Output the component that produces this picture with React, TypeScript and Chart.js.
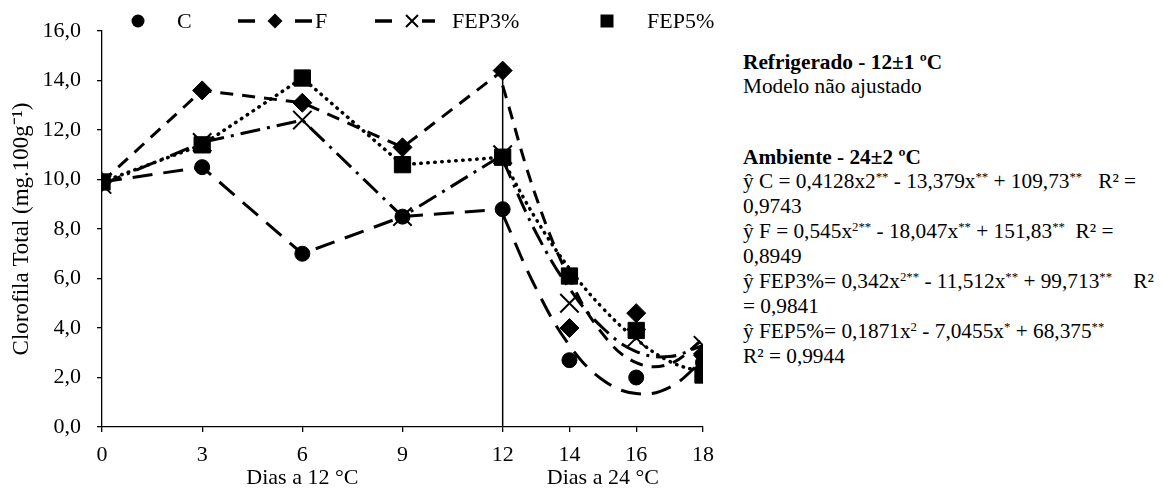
import React, { useEffect, useRef } from 'react';
import { Chart, registerables } from 'chart.js';

Chart.register(...registerables);

// ---------- data ----------
const days = [0, 3, 6, 9, 12, 14, 16, 18];
const xTickValues = [0, 3, 6, 9, 12, 14, 16, 18];
const seriesNames = ['C', 'F', 'FEP3%', 'FEP5%'];

const valuesC = [9.9, 10.5, 7.0, 8.5, 8.8, 2.7, 2.0, 2.6];
const valuesF = [9.9, 13.6, 13.1, 11.3, 14.4, 4.0, 4.6, 2.9];
const valuesFEP3 = [9.8, 11.5, 12.4, 8.5, 11.0, 5.0, 3.6, 3.3];
const valuesFEP5 = [9.9, 11.4, 14.1, 10.6, 10.9, 6.1, 3.9, 2.1];

// fitted curves (ambient phase)
const fitDays = [12, 13, 14, 15, 16, 17, 18];
const fitC = [8.6, 5.6, 3.3, 1.9, 1.35, 1.6, 2.7];
const fitF = [13.8, 9.3, 6.0, 3.75, 2.6, 2.55, 3.55];
const fitFEP3 = [10.8, 7.85, 5.6, 4.0, 3.05, 2.85, 3.3];
const fitFEP5 = [10.8, 8.4, 6.4, 4.8, 3.55, 2.65, 2.2];

const lastStoredIndex = 4; // day 12: end of refrigerated phase
const dividerDay = 12;
const dividerTop = 14.4;

const yMin = 0;
const yMax = 16;
const yStep = 2;
const yTitle = 'Clorofila Total (mg.100g\u207B\u00B9)';
const xTitles = ['Dias a 12 °C', 'Dias a 24 °C'];
const xTitleDays = [6, 15];

const refTitle = 'Refrigerado - 12±1 ºC';
const refNote = 'Modelo não ajustado';
const ambTitle = 'Ambiente - 24±2 ºC';

// ---------- styles ----------
const FONT = '"Liberation Serif", "Times New Roman", serif';
const FS = 22;

type St = { pointStyle: string; radius: number; pb: number; dash: number[]; cap: CanvasLineCap; width: number };
const styles: St[] = [
  { pointStyle: 'circle', radius: 7.5, pb: 1, dash: [20, 11], cap: 'butt', width: 3 },
  { pointStyle: 'rectRot', radius: 9.5, pb: 1, dash: [13, 9], cap: 'butt', width: 3 },
  { pointStyle: 'crossRot', radius: 13, pb: 2, dash: [20, 7, 3, 7], cap: 'butt', width: 3 },
  { pointStyle: 'rect', radius: 11.5, pb: 1, dash: [0.5, 6.5], cap: 'round', width: 3.5 },
];

function drawMarker(ctx: CanvasRenderingContext2D, kind: string, x: number, y: number, r: number) {
  ctx.save();
  ctx.fillStyle = '#000';
  ctx.strokeStyle = '#000';
  ctx.setLineDash([]);
  ctx.beginPath();
  if (kind === 'circle') {
    ctx.arc(x, y, r, 0, Math.PI * 2);
    ctx.fill();
  } else if (kind === 'rectRot') {
    ctx.moveTo(x, y - r);
    ctx.lineTo(x + r, y);
    ctx.lineTo(x, y + r);
    ctx.lineTo(x - r, y);
    ctx.closePath();
    ctx.fill();
  } else if (kind === 'crossRot') {
    ctx.lineWidth = 2;
    ctx.moveTo(x - r, y - r);
    ctx.lineTo(x + r, y + r);
    ctx.moveTo(x + r, y - r);
    ctx.lineTo(x - r, y + r);
    ctx.stroke();
  } else {
    ctx.rect(x - r, y - r, 2 * r, 2 * r);
    ctx.fill();
  }
  ctx.restore();
}

function dash(ctx: CanvasRenderingContext2D, x1: number, x2: number, y: number) {
  ctx.save();
  ctx.strokeStyle = '#000';
  ctx.lineWidth = 3.5;
  ctx.beginPath();
  ctx.moveTo(x1, y);
  ctx.lineTo(x2, y);
  ctx.stroke();
  ctx.restore();
}

const extrasPlugin = {
  id: 'extras',
  afterDraw(chart: any) {
    const ctx: CanvasRenderingContext2D = chart.ctx;
    const xs = chart.scales.x;
    ctx.save();
    ctx.fillStyle = '#000';
    ctx.font = `${FS}px ${FONT}`;
    ctx.textAlign = 'center';
    ctx.textBaseline = 'middle';
    xTitles.forEach((t, i) => {
      ctx.fillText(t, xs.getPixelForValue(xTitleDays[i]), 478);
    });
    // legend
    const ly = 21;
    ctx.textAlign = 'left';
    drawMarker(ctx, 'circle', 138, ly, 6.5);
    ctx.fillText(seriesNames[0], 177, ly + 1);
    dash(ctx, 238, 255, ly);
    drawMarker(ctx, 'rectRot', 275, ly, 7.5);
    dash(ctx, 295, 312, ly);
    ctx.fillText(seriesNames[1], 315, ly + 1);
    dash(ctx, 375, 392, ly);
    drawMarker(ctx, 'crossRot', 412, ly, 6);
    dash(ctx, 422, 435, ly);
    ctx.fillText(seriesNames[2], 452, ly + 1);
    drawMarker(ctx, 'rect', 607, ly, 6.5);
    ctx.fillText(seriesNames[3], 647, ly + 1);
    ctx.restore();
  },
};

const sup: React.CSSProperties = { fontSize: '0.6em', position: 'relative', top: '-0.55em', lineHeight: 0 };

export default function App() {
  const ref = useRef<HTMLCanvasElement>(null);
  useEffect(() => {
    const canvas = ref.current!;
    const observed = [valuesC, valuesF, valuesFEP3, valuesFEP5];
    const fits = [fitC, fitF, fitFEP3, fitFEP5];
    const obsSets = observed.map((vals, i) => {
      const st = styles[i];
      return {
        label: seriesNames[i],
        data: days.map((d, k) => ({ x: d, y: vals[k] })),
        borderColor: '#000',
        backgroundColor: '#000',
        borderWidth: st.width,
        borderDash: st.dash,
        borderCapStyle: st.cap,
        pointStyle: st.pointStyle,
        pointRadius: st.radius,
        pointBorderWidth: st.pb,
        pointBackgroundColor: '#000',
        pointBorderColor: '#000',
        tension: 0,
        segment: {
          borderColor: (c: any) => (c.p0DataIndex >= lastStoredIndex ? 'rgba(0,0,0,0)' : '#000'),
        },
      };
    });
    const fitSets = fits.map((vals, i) => {
      const st = styles[i];
      return {
        label: seriesNames[i] + ' fit',
        data: fitDays.map((d, k) => ({ x: d, y: vals[k] })),
        borderColor: '#000',
        borderWidth: st.width,
        borderDash: st.dash,
        borderCapStyle: st.cap,
        pointRadius: 0,
        tension: 0.4,
      };
    });
    const divider = {
      label: 'divider',
      data: [
        { x: dividerDay, y: yMin },
        { x: dividerDay, y: dividerTop },
      ],
      borderColor: '#000',
      borderWidth: 1.5,
      pointRadius: 0,
    };
    const chart = new Chart(canvas, {
      type: 'line',
      data: { datasets: [...obsSets, ...fitSets, divider] as any },
      options: {
        animation: false,
        responsive: false,
        maintainAspectRatio: false,
        devicePixelRatio: 1,
        layout: { padding: { left: 0, top: 31, right: 37, bottom: 0 } },
        plugins: { legend: { display: false }, tooltip: { enabled: false } },
        scales: {
          x: {
            type: 'linear',
            min: 0,
            max: 18,
            afterBuildTicks: (s: any) => {
              s.ticks = xTickValues.map((v) => ({ value: v }));
            },
            afterFit: (s: any) => {
              s.height = 72;
            },
            ticks: {
              callback: (v: any) => String(v),
              font: { family: FONT, size: FS },
              color: '#000',
              padding: 10,
              maxRotation: 0,
              autoSkip: false,
            },
            grid: { drawOnChartArea: false, tickLength: 5, color: '#000', lineWidth: 1.3 },
            border: { color: '#000', width: 1.3 },
          },
          y: {
            min: yMin,
            max: yMax,
            afterFit: (s: any) => {
              s.width = 102;
            },
            ticks: {
              stepSize: yStep,
              callback: (v: any) => Number(v).toFixed(1).replace('.', ','),
              font: { family: FONT, size: FS },
              color: '#000',
              padding: 16,
            },
            title: {
              display: true,
              text: yTitle,
              font: { family: FONT, size: 23 },
              color: '#000',
              padding: { top: 8, bottom: 0 },
            },
            grid: { drawOnChartArea: false, tickLength: 5, color: '#000', lineWidth: 1.3 },
            border: { color: '#000', width: 1.3 },
          },
        },
      } as any,
      plugins: [extrasPlugin],
    });
    return () => chart.destroy();
  }, []);

  const lh = 24.9;
  const textStyle: React.CSSProperties = {
    position: 'absolute',
    left: 743,
    fontFamily: FONT,
    fontSize: 21.3,
    lineHeight: `${lh}px`,
    color: '#000',
    whiteSpace: 'nowrap',
  };
  const nb = '\u00A0';
  return (
    <div style={{ position: 'fixed', left: 0, top: 0, width: 1163, height: 499, background: '#fff' }}>
      <canvas ref={ref} width={740} height={499} style={{ position: 'absolute', left: 0, top: 0 }} />
      <div style={{ ...textStyle, top: 62 - lh / 2 }}>
        <div style={{ fontWeight: 'bold' }}>{refTitle}</div>
        <div>{refNote}</div>
      </div>
      <div style={{ ...textStyle, top: 157 - lh / 2 }}>
        <div style={{ fontWeight: 'bold' }}>{ambTitle}</div>
        <div>
          ŷ C = 0,4128x2<span style={sup}>**</span> - 13,379x<span style={sup}>**</span> + 109,73
          <span style={sup}>**</span>
          {nb + nb + nb}R² =
        </div>
        <div>0,9743</div>
        <div>
          ŷ F = 0,545x<span style={sup}>2**</span> - 18,047x<span style={sup}>**</span> + 151,83
          <span style={sup}>**</span>
          {nb + nb}R² =
        </div>
        <div>0,8949</div>
        <div>
          ŷ FEP3%= 0,342x<span style={sup}>2**</span> - 11,512x<span style={sup}>**</span> + 99,713
          <span style={sup}>**</span>
          {nb + nb + nb + nb}R²
        </div>
        <div>= 0,9841</div>
        <div>
          ŷ FEP5%= 0,1871x<span style={sup}>2</span> - 7,0455x<span style={sup}>*</span> + 68,375
          <span style={sup}>**</span>
        </div>
        <div>R² = 0,9944</div>
      </div>
    </div>
  );
}
